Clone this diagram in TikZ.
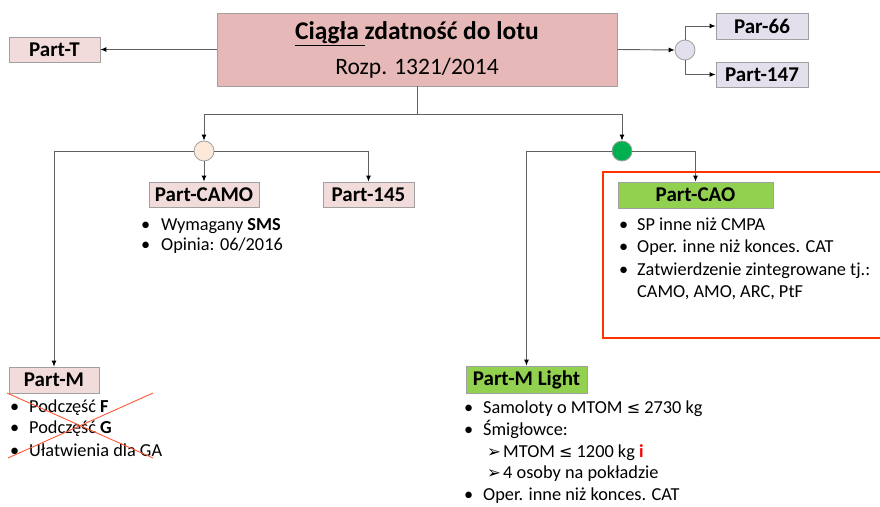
\documentclass[tikz,border=0pt]{standalone}
\usepackage{fontspec}
\setmainfont{Carlito}
\newfontfamily\symfont{DejaVu Sans}
\usetikzlibrary{arrows.meta}
\definecolor{mainfill}{HTML}{E6B8B7}
\definecolor{pinkfill}{HTML}{F2DCDB}
\definecolor{lavfill}{HTML}{E4DFEC}
\definecolor{peach}{HTML}{FDE9D9}
\definecolor{gcirc}{HTML}{00B050}
\definecolor{lgreen}{HTML}{92D050}
\definecolor{framered}{HTML}{FF3300}
\definecolor{crossred}{HTML}{FF5A36}
\definecolor{linegray}{HTML}{606060}
\definecolor{boxborder}{HTML}{A0A0A0}
\tikzset{
  partbox/.style={draw=boxborder, line width=0.8pt, inner sep=0pt, font=\bfseries\fontsize{21}{21}\selectfont},
  circ/.style={circle, draw=boxborder, line width=0.8pt, minimum size=20pt, inner sep=0pt},
  conn/.style={draw=linegray, line width=0.9pt, -{Latex[length=6pt,width=5pt,black]}},
  plain/.style={draw=linegray, line width=0.9pt},
  btxt/.style={anchor=base west, inner sep=0pt, font=\fontsize{18.3}{18.3}\selectfont},
  arrbul/.style={anchor=base west, inner sep=0pt, font=\symfont\fontsize{16.5}{16.5}\selectfont},
}
\newcommand{\leqsym}{{\symfont\fontsize{16}{16}\selectfont ≤}}
\begin{document}
\begin{tikzpicture}[x=1pt,y=-1pt]
\useasboundingbox[fill=white] (0,0) rectangle (880,506);
% main box
\node[draw=boxborder, fill=mainfill, line width=0.8pt, minimum width=400pt, minimum height=73pt, inner sep=0pt] (main) at (417,49.5) {};
\node[anchor=base, inner sep=0pt, font=\bfseries\fontsize{25.5}{25.5}\selectfont] (title) at (417,39.5) {\underline{Ciągła\ }zdatność do lotu};
\node[anchor=base, inner sep=0pt, font=\fontsize{23.5}{23.5}\selectfont] (rozp) at (417,74) {Rozp. 1321/2014};
% side boxes
\node[partbox, fill=pinkfill, minimum width=91pt, minimum height=25pt] (partT) at (54.5,49.5) {Part-T};
\node[circ, fill=lavfill] (circR) at (685,50) {};
\node[partbox, fill=lavfill, minimum width=92pt, minimum height=26pt] (par66) at (762,26) {Par-66};
\node[partbox, fill=lavfill, minimum width=92pt, minimum height=25pt] (part147) at (762,74.5) {Part-147};
% second level
\coordinate (j) at (417,114);
\coordinate (jl) at (204,114);
\coordinate (jr) at (622,114);
\node[circ, fill=peach] (circL) at (204,151) {};
\node[circ, fill=gcirc] (circG) at (622,151) {};
\node[partbox, fill=pinkfill, minimum width=110pt, minimum height=25pt] (camo) at (204,194.5) {Part-CAMO};
\node[partbox, fill=pinkfill, minimum width=91pt, minimum height=25pt] (p145) at (368.5,194.5) {Part-145};
\draw[framered, line width=2.5pt] (603,172) rectangle (895,338);
\node[partbox, fill=lgreen, minimum width=155pt, minimum height=26pt] (cao) at (695.5,195) {Part-CAO};
\node[partbox, fill=pinkfill, minimum width=90pt, minimum height=26pt] (partM) at (54,380) {Part-M};
\node[partbox, fill=lgreen, minimum width=121pt, minimum height=27pt] (mlight) at (526.5,379.5) {Part-M Light};
% connectors
\draw[conn] (main.west) -- (partT.east);
\draw[conn] (main.east) -- (circR.west);
\draw[conn] (circR.north) |- (par66.west);
\draw[conn] (circR.south) |- (part147.west);
\draw[plain] (main.south) -- (j);
\draw[plain] (jl) -- (jr);
\draw[conn] (jl) -- (circL.north);
\draw[conn] (jr) -- (circG.north);
\draw[conn] (circL.west) -| (partM.north);
\draw[conn] (circL.east) -| (p145.north);
\draw[conn] (circL.south) -- (camo.north);
\draw[conn] (circG.west) -| (mlight.north);
\draw[conn] (circG.east) -| (cao.north);
% CAMO bullets
\node[btxt] (cb1) at (141,230) {•};
\node[btxt] (ct1) at (161,230) {Wymagany \textbf{SMS}};
\node[btxt] (cb2) at (141,250) {•};
\node[btxt] (ct2) at (161,250) {Opinia: 06/2016};
% CAO bullets
\node[btxt] (ob1) at (619,230) {•};
\node[btxt] (ot1) at (637,230) {SP inne niż CMPA};
\node[btxt] (ob2) at (619,252) {•};
\node[btxt] (ot2) at (637,252) {Oper. inne niż konces. CAT};
\node[btxt] (ob3) at (619,275) {•};
\node[btxt] (ot3) at (637,275) {Zatwierdzenie zintegrowane tj.:};
\node[btxt] (ot4) at (637,297) {CAMO, AMO, ARC, PtF};
% Part-M bullets
\node[btxt] (mb1) at (10,412) {•};
\node[btxt] (mt1) at (29,412) {Podczęść \textbf{F}};
\node[btxt] (mb2) at (10,433) {•};
\node[btxt] (mt2) at (29,433) {Podczęść \textbf{G}};
\node[btxt] (mb3) at (10,456) {•};
\node[btxt] (mt3) at (29,456) {Ułatwienia dla GA};
\draw[crossred, line width=0.9pt] (7,393) -- (153,458);
\draw[crossred, line width=0.9pt] (153,393) -- (8,458);
% Part-M Light bullets
\node[btxt] (lb1) at (464,413) {•};
\node[btxt] (lt1) at (483,413) {Samoloty o MTOM \leqsym{} 2730 kg};
\node[btxt] (lb2) at (464,435) {•};
\node[btxt] (lt2) at (483,435) {Śmigłowce:};
\node[arrbul] (la1) at (487,457.5) {➢};
\node[btxt] (lt3) at (503,457) {MTOM \leqsym{} 1200 kg \textcolor{red}{\textbf{i}}};
\node[arrbul] (la2) at (487,478.5) {➢};
\node[btxt] (lt4) at (503,478) {4 osoby na pokładzie};
\node[btxt] (lb3) at (464,500) {•};
\node[btxt] (lt5) at (483,500) {Oper. inne niż konces. CAT};
\end{tikzpicture}
\end{document}
